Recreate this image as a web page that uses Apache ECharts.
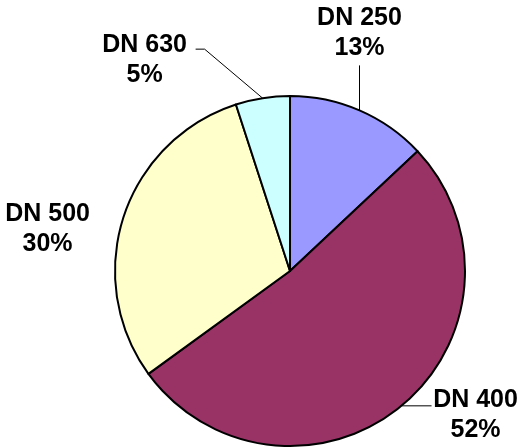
<!DOCTYPE html>
<html>
  <head>
    <meta charset="UTF-8" />
    <title>pie</title>
    <script src="https://cdn.jsdelivr.net/npm/echarts@6/dist/echarts.min.js"></script>
    <style>
      html, body { margin: 0; padding: 0; background: #ffffff; }
    </style>
  </head>
  <body>
    <div id="pie1" style="width: 526px; height: 448px"></div>
    <script>
      var pieNames = ['DN 250', 'DN 400', 'DN 500', 'DN 630'];
      var pieValues = [13, 52, 30, 5];
      var pieColors = ['#9999FF', '#993366', '#FFFFCC', '#CCFFFF'];

      pieChart1();
      function pieChart1() {
        var el = document.getElementById('pie1');
        var chart = echarts.init(el);

        var cx = 290;
        var cy = 271;
        var r = 175;

        // label placement relative to the slice's mid point on the rim
        var labelOffset = [
          { dx: 0, dy: -77, line: [[0, -45]] },
          { dx: 74, dy: 9, line: [[30, 0]] },
          { dx: -76, dy: 12, line: null },
          { dx: -118, dy: -38, line: [[-58, -49], [-67, -49]] }
        ];

        var total = pieValues.reduce(function (a, b) { return a + b; }, 0);
        var anchor = function (idx) {
          var before = 0;
          for (var i = 0; i < idx; i += 1) before += pieValues[i];
          var mid = ((before + pieValues[idx] / 2) / total) * Math.PI * 2;
          return [cx + r * Math.sin(mid), cy - r * Math.cos(mid)];
        };

        var chartData = function () {
          var rtnAry = [];
          for (var i = 0; i < pieValues.length; i += 1) {
            rtnAry.push({
              name: pieNames[i],
              value: pieValues[i],
              itemStyle: { color: pieColors[i] },
              labelLine: { show: !!labelOffset[i].line }
            });
          }
          return rtnAry;
        };

        var chartOption = {
          backgroundColor: '#ffffff',
          animation: false,
          series: [
            {
              type: 'pie',
              center: [cx, cy],
              radius: r,
              startAngle: 90,
              clockwise: true,
              percentPrecision: 0,
              itemStyle: {
                borderColor: '#000000',
                borderWidth: 2
              },
              label: {
                show: true,
                position: 'outside',
                formatter: '{b}\n{d}%',
                color: '#000000',
                fontSize: 25,
                fontWeight: 'bold',
                lineHeight: 30,
                fontFamily: 'Liberation Sans, Arial, sans-serif',
                align: 'center',
                overflow: 'none',
                width: 120
              },
              labelLine: {
                lineStyle: { color: '#000000', width: 1 },
                smooth: false
              },
              labelLayout: function (params) {
                var i = params.dataIndex;
                var a = anchor(i);
                var off = labelOffset[i];
                var out = {
                  x: a[0] + off.dx,
                  y: a[1] + off.dy,
                  align: 'center',
                  verticalAlign: 'middle'
                };
                if (off.line) {
                  var pts = [a];
                  for (var k = 0; k < off.line.length; k += 1) {
                    pts.push([a[0] + off.line[k][0], a[1] + off.line[k][1]]);
                  }
                  out.labelLinePoints = pts;
                }
                return out;
              },
              data: chartData()
            }
          ]
        };

        chart.setOption(chartOption);
      }
    </script>
  </body>
</html>
